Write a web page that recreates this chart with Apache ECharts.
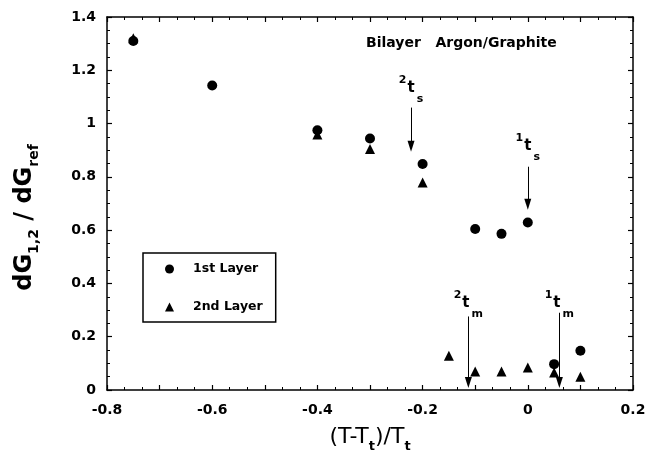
<!DOCTYPE html>
<html>
<head>
<meta charset="utf-8">
<script src="https://cdn.jsdelivr.net/npm/echarts@6/dist/echarts.min.js"></script>
<style>
html, body { margin: 0; padding: 0; background: #fff; }
#chart { width: 646px; height: 454px; }
</style>
</head>
<body>
<div id="chart"></div>
<script>
// data
var xFirst = [-0.75, -0.6, -0.4, -0.3, -0.2, -0.1, -0.05, 0, 0.05, 0.1];
var yFirst = [1.31, 1.143, 0.975, 0.944, 0.848, 0.604, 0.586, 0.629, 0.097, 0.147];
var xSecond = [-0.75, -0.4, -0.3, -0.2, -0.15, -0.1, -0.05, 0, 0.05, 0.1];
var ySecond = [1.32, 0.959, 0.905, 0.779, 0.129, 0.069, 0.069, 0.084, 0.066, 0.05];

var xTickVals = [-0.8, -0.6, -0.4, -0.2, 0, 0.2];
var xTickLabels = ['-0.8', '-0.6', '-0.4', '-0.2', '0', '0.2'];
var yTickVals = [0, 0.2, 0.4, 0.6, 0.8, 1, 1.2, 1.4];
var yTickLabels = ['0', '0.2', '0.4', '0.6', '0.8', '1', '1.2', '1.4'];

// transition arrows: x, top of shaft, tip
var arrowNames = ['2s', '1s', '2m', '1m'];
var arrowX = [-0.222, 0, -0.113, 0.06];
var arrowTop = [1.06, 0.838, 0.276, 0.29];
var arrowEnd = [0.915, 0.697, 0.028, 0.028];
var arrowLabelY = [1.132, 0.914, 0.327, 0.327];

var FONT = 'DejaVu Sans';

function zip(xs, ys) {
    return xs.map(function (x, i) { return [x, ys[i]]; });
}

function pickLabel(vals, labels) {
    return function (v) {
        for (var i = 0; i < vals.length; i++) {
            if (Math.abs(vals[i] - v) < 1e-6) return labels[i];
        }
        return '';
    };
}

var axisLine = { show: true, onZero: false, lineStyle: { color: '#000', width: 1.5 } };
var tick = { show: true, inside: true, length: 5, lineStyle: { color: '#000', width: 1.2 } };

function xAx(pos, withLabels) {
    return {
        type: 'value', position: pos,
        min: -0.8, max: 0.2, interval: 0.1,
        axisLine: axisLine,
        axisTick: tick,
        minorTick: { show: true, splitNumber: 3, length: 3, lineStyle: { color: '#000', width: 1 } },
        splitLine: { show: false },
        axisLabel: {
            show: withLabels, margin: 13, color: '#000',
            fontFamily: FONT, fontWeight: 'bold', fontSize: 14,
            formatter: pickLabel(xTickVals, xTickLabels)
        }
    };
}

function yAx(pos, withLabels) {
    return {
        type: 'value', position: pos,
        min: 0, max: 1.4, interval: 0.2,
        axisLine: axisLine,
        axisTick: tick,
        minorTick: { show: true, splitNumber: 4, length: 3, lineStyle: { color: '#000', width: 1 } },
        splitLine: { show: false },
        axisLabel: {
            show: withLabels, margin: 11, color: '#000',
            fontFamily: FONT, fontWeight: 'bold', fontSize: 14,
            formatter: pickLabel(yTickVals, yTickLabels)
        }
    };
}

var xBottom = xAx('bottom', true);
xBottom.name = '(T-T{s|t})/T{s|t}';
xBottom.nameLocation = 'middle';
xBottom.nameGap = 32;
xBottom.nameTextStyle = {
    color: '#000', fontFamily: FONT, fontSize: 22,
    rich: { s: { color: '#000', fontFamily: FONT, fontWeight: 'bold', fontSize: 13, padding: [18, 0, 0, 0] } }
};

var yLeft = yAx('left', true);
yLeft.name = 'dG{s|1,2} / dG{s|ref}';
yLeft.nameLocation = 'middle';
yLeft.nameGap = 66;
yLeft.nameTextStyle = {
    color: '#000', fontFamily: FONT, fontWeight: 'bold', fontSize: 24,
    padding: [0, 28, 0, 0],
    rich: { s: { color: '#000', fontFamily: FONT, fontWeight: 'bold', fontSize: 14, padding: [18, 0, 0, 0] } }
};

var labelRich = {
    sup: { color: '#000', fontFamily: FONT, fontWeight: 'bold', fontSize: 11, padding: [0, 1, 16, 0] },
    t: { color: '#000', fontFamily: FONT, fontWeight: 'bold', fontSize: 15 },
    sub: { color: '#000', fontFamily: FONT, fontWeight: 'bold', fontSize: 11, padding: [22, 0, 0, 2] }
};

var option = {
    backgroundColor: '#fff',
    animation: false,
    title: {
        text: 'Bilayer   Argon/Graphite',
        left: 366, top: 36, padding: 0,
        textStyle: { color: '#000', fontFamily: FONT, fontWeight: 'bold', fontSize: 14 }
    },
    legend: {
        data: ['1st Layer', '2nd Layer'],
        orient: 'vertical',
        left: 143, top: 253,
        padding: [9, 13, 8, 22],
        itemWidth: 9, itemHeight: 9, itemGap: 24,
        borderColor: '#000', borderWidth: 1.5,
        itemStyle: { opacity: 1 },
        textStyle: {
            color: '#000', fontFamily: FONT, fontWeight: 'bold', fontSize: 12.5,
            lineHeight: 14, padding: [0, 0, 0, 14]
        }
    },
    grid: { left: 107, right: 13, top: 17, bottom: 64, outerBoundsMode: 'none' },
    xAxis: [xBottom, xAx('top', false)],
    yAxis: [yLeft, yAx('right', false)],
    series: [
        {
            name: '1st Layer', type: 'scatter', symbol: 'circle', symbolSize: 10,
            itemStyle: { color: '#000', opacity: 1 },
            data: zip(xFirst, yFirst)
        },
        {
            name: '2nd Layer', type: 'scatter', symbol: 'triangle', symbolSize: 10,
            itemStyle: { color: '#000', opacity: 1 },
            data: zip(xSecond, ySecond)
        },
        {
            name: 'annot', type: 'scatter', data: [], silent: true,
            markLine: {
                silent: true, animation: false,
                symbol: ['none', 'triangle'], symbolSize: [7, 11],
                label: { show: false },
                lineStyle: { color: '#000', width: 1, type: 'solid' },
                data: arrowX.map(function (x, i) {
                    return [{ coord: [x, arrowTop[i]] }, { coord: [x, arrowEnd[i]] }];
                })
            },
            markPoint: {
                silent: true, symbol: 'circle', symbolSize: 0,
                itemStyle: { color: 'rgba(0,0,0,0)' },
                label: {
                    show: true, position: 'inside', rich: labelRich,
                    formatter: function (p) {
                        var n = p.name;
                        return '{sup|' + n.charAt(0) + '}{t|t}{sub|' + n.charAt(1) + '}';
                    }
                },
                data: arrowX.map(function (x, i) {
                    return { name: arrowNames[i], coord: [x, arrowLabelY[i]] };
                })
            }
        }
    ]
};

var chart = echarts.init(document.getElementById('chart'));
chart.setOption(option);
</script>
</body>
</html>
